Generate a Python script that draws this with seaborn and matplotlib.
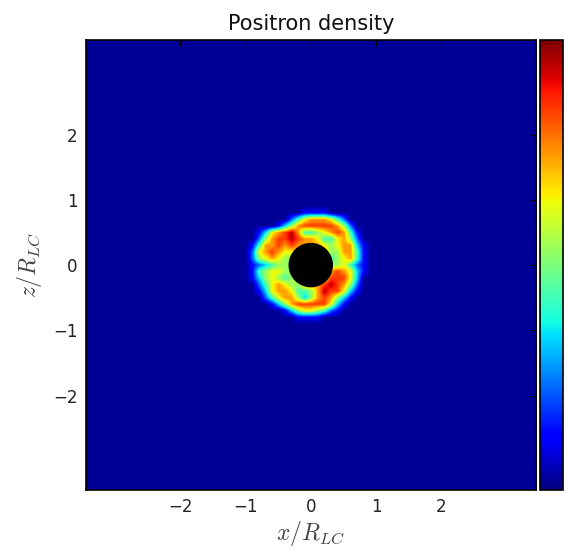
import numpy as np
import matplotlib
matplotlib.use("Agg")
import matplotlib.pyplot as plt
from matplotlib.patches import Circle
import seaborn as sns

sns.set_theme(style="white")
plt.rcParams['font.family'] = ['DejaVu Sans']
plt.rcParams['mathtext.fontset'] = 'cm'

# Density on a 0.1-spaced grid (x from -0.9 to 0.9,
# z from 0.9 down to -0.9); digit 0..9 ~ colour level.
density_rows = [
    "0000000000000000000",
    "0000000011110000000",
    "0000002467776420000",
    "0000135788888752000",
    "0136789744567874100",
    "0257889877644675200",
    "1477878777765677310",
    "2678766777775577410",
    "2567655666664567410",
    "1234555555555564210",
    "1456655666667876310",
    "1356545666668886300",
    "0246765577789875200",
    "0136776445798863100",
    "0024677535787531000",
    "0001357888886310000",
    "0000013566542100000",
    "0000000111100000000",
    "0000000000000000000",
]
domain_half = 3.4        # outer grid centres
grid_step = 0.1
star_radius = 0.33
ticks = [-2, -1, 0, 1, 2]
title = "Positron density"
xlabel = r"$x/R_{LC}$"
ylabel = r"$z/R_{LC}$"

n = int(round(2 * domain_half / grid_step)) + 1
field = np.full((n, n), 0.022)
core = np.array([[0.022 + int(c) * 0.103 for c in row] for row in density_rows])
m = core.shape[0]
c0 = n // 2 - m // 2
field[c0:c0 + m, c0:c0 + m] = core

fig = plt.figure(figsize=(5.65, 5.5), dpi=100)
ax = fig.add_axes([0.1515, 0.109, 0.797, 0.818])
cax = fig.add_axes([0.956, 0.109, 0.041, 0.818])

cmap = matplotlib.colormaps["jet"]
ext = domain_half + grid_step / 2
im = ax.imshow(field, cmap=cmap, vmin=0, vmax=1, origin="upper",
               extent=[-ext, ext, -ext, ext], interpolation="bilinear",
               aspect="auto")
ax.add_patch(Circle((0, 0), star_radius, color="black", zorder=3))
ax.set_xlim(-ext, ext)
ax.set_ylim(-ext, ext)
ax.set_xticks(ticks)
ax.set_yticks(ticks)
ax.set_xticklabels(["\u22122", "\u22121", "0", "1", "2"])
ax.set_yticklabels(["\u22122", "\u22121", "0", "1", "2"])
ax.tick_params(direction="in", length=4, width=0.8, top=True, right=True,
               labelsize=12, colors="black", labelcolor="#222222", pad=6)
for s in ax.spines.values():
    s.set_color("black")
    s.set_linewidth(1.2)
ax.set_title(title, fontsize=15, color="#111111", pad=7)
ax.set_xlabel(xlabel, fontsize=17, color="#444444", labelpad=2)
ax.set_ylabel(ylabel, fontsize=17, color="#444444", labelpad=6)

cb = fig.colorbar(im, cax=cax)
cb.set_ticks([])
cb.outline.set_edgecolor("black")
cb.outline.set_linewidth(1.2)

fig.savefig("out.png", dpi=100)
